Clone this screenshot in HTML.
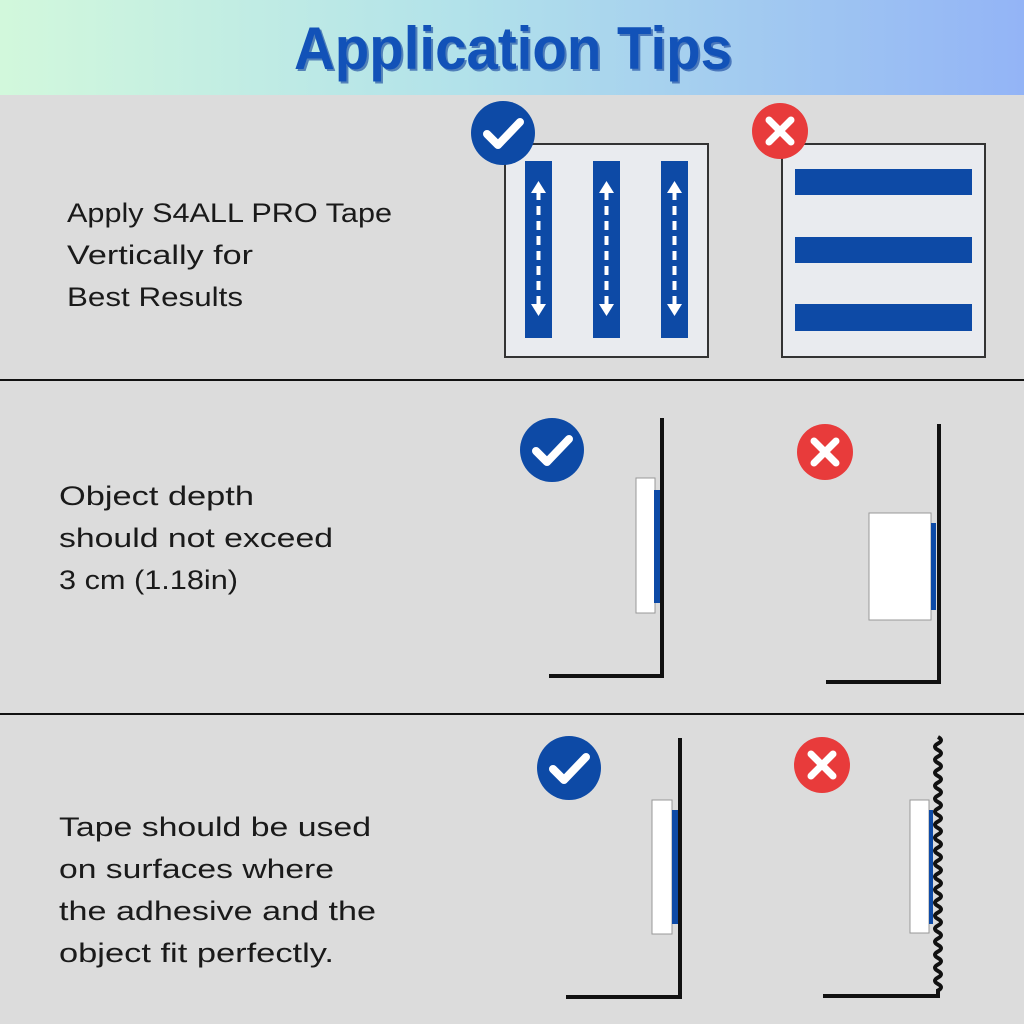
<!DOCTYPE html>
<html><head><meta charset="utf-8"><style>
html,body{margin:0;padding:0;background:#dcdcdc}
svg{display:block}
text{font-family:"Liberation Sans",sans-serif}
.t{font-size:27px;fill:#1a1a1a}
</style></head><body>
<svg width="1024" height="1024" viewBox="0 0 1024 1024" xmlns="http://www.w3.org/2000/svg">
<defs>
<linearGradient id="hg" x1="0" y1="0" x2="1" y2="0">
<stop offset="0" stop-color="#d2f8dc"/><stop offset="0.45" stop-color="#b2e2ea"/><stop offset="1" stop-color="#93b4f6"/>
</linearGradient>
<g id="chk"><path d="M-16,1 L-5,12 L17,-11" fill="none" stroke="#fff" stroke-width="8" stroke-linecap="round" stroke-linejoin="round"/></g>
<g id="xx"><path d="M-11,-11 L11,11 M11,-11 L-11,11" fill="none" stroke="#fff" stroke-width="7" stroke-linecap="round"/></g>
<g id="strip">
<rect x="0" y="0" width="27" height="177" fill="#0d4aa6"/>
<path d="M13.5,30 V150" stroke="#fff" stroke-width="4" stroke-dasharray="9,6"/>
<path d="M6,32 L13.5,20 L21,32 Z M6,143 L13.5,155 L21,143 Z" fill="#fff"/>
</g>
</defs>
<rect width="1024" height="1024" fill="#dcdcdc"/>
<rect width="1024" height="95" fill="url(#hg)"/>
<text x="515" y="71" font-size="60" font-weight="bold" fill="#0f3f9a" text-anchor="middle" textLength="438" lengthAdjust="spacingAndGlyphs" opacity="0.6">Application Tips</text>
<text x="513" y="69" font-size="60" font-weight="bold" fill="#1252b8" text-anchor="middle" textLength="438" lengthAdjust="spacingAndGlyphs">Application Tips</text>

<line x1="0" y1="380" x2="1024" y2="380" stroke="#111" stroke-width="2"/>
<line x1="0" y1="714" x2="1024" y2="714" stroke="#111" stroke-width="2"/>

<!-- section 1 -->
<text class="t" x="67" y="222" textLength="325" lengthAdjust="spacingAndGlyphs">Apply S4ALL PRO Tape</text>
<text class="t" x="67" y="264" textLength="186" lengthAdjust="spacingAndGlyphs">Vertically for</text>
<text class="t" x="67" y="306" textLength="176" lengthAdjust="spacingAndGlyphs">Best Results</text>
<rect x="505" y="144" width="203" height="213" fill="#e9ebef" stroke="#333" stroke-width="2"/>
<use href="#strip" x="525" y="161"/>
<use href="#strip" x="593" y="161"/>
<use href="#strip" x="661" y="161"/>
<circle cx="503" cy="133" r="32" fill="#0d4aa6"/><use href="#chk" x="503" y="133"/>
<rect x="782" y="144" width="203" height="213" fill="#e9ebef" stroke="#333" stroke-width="2"/>
<rect x="795" y="169" width="177" height="26" fill="#0d4aa6"/>
<rect x="795" y="237" width="177" height="26" fill="#0d4aa6"/>
<rect x="795" y="304" width="177" height="27" fill="#0d4aa6"/>
<circle cx="780" cy="131" r="28" fill="#e83b3b"/><use href="#xx" x="780" y="131"/>

<!-- section 2 -->
<text class="t" x="59" y="505" textLength="195" lengthAdjust="spacingAndGlyphs">Object depth</text>
<text class="t" x="59" y="547" textLength="274" lengthAdjust="spacingAndGlyphs">should not exceed</text>
<text class="t" x="59" y="589" textLength="179" lengthAdjust="spacingAndGlyphs">3 cm (1.18in)</text>
<circle cx="552" cy="450" r="32" fill="#0d4aa6"/><use href="#chk" x="552" y="450"/>
<path d="M662,418 V676 H549" fill="none" stroke="#111" stroke-width="4"/>
<rect x="636" y="478" width="19" height="135" fill="#fff" stroke="#999" stroke-width="1"/>
<rect x="654" y="490" width="6" height="113" fill="#0d4aa6"/>
<circle cx="825" cy="452" r="28" fill="#e83b3b"/><use href="#xx" x="825" y="452"/>
<path d="M939,424 V682 H826" fill="none" stroke="#111" stroke-width="4"/>
<rect x="869" y="513" width="62" height="107" fill="#fff" stroke="#999" stroke-width="1"/>
<rect x="931" y="523" width="5" height="87" fill="#0d4aa6"/>

<!-- section 3 -->
<text class="t" x="59" y="836" textLength="312" lengthAdjust="spacingAndGlyphs">Tape should be used</text>
<text class="t" x="59" y="878" textLength="275" lengthAdjust="spacingAndGlyphs">on surfaces where</text>
<text class="t" x="59" y="920" textLength="317" lengthAdjust="spacingAndGlyphs">the adhesive and the</text>
<text class="t" x="59" y="962" textLength="275" lengthAdjust="spacingAndGlyphs">object fit perfectly.</text>
<circle cx="569" cy="768" r="32" fill="#0d4aa6"/><use href="#chk" x="569" y="768"/>
<path d="M680,738 V997 H566" fill="none" stroke="#111" stroke-width="4"/>
<rect x="652" y="800" width="20" height="134" fill="#fff" stroke="#999" stroke-width="1"/>
<rect x="672" y="810" width="6" height="114" fill="#0d4aa6"/>
<circle cx="822" cy="765" r="28" fill="#e83b3b"/><use href="#xx" x="822" y="765"/>
<path d="M938,737 q6,3.25 0,6.5 t0,6.5 t0,6.5 t0,6.5 t0,6.5 t0,6.5 t0,6.5 t0,6.5 t0,6.5 t0,6.5 t0,6.5 t0,6.5 t0,6.5 t0,6.5 t0,6.5 t0,6.5 t0,6.5 t0,6.5 t0,6.5 t0,6.5 t0,6.5 t0,6.5 t0,6.5 t0,6.5 t0,6.5 t0,6.5 t0,6.5 t0,6.5 t0,6.5 t0,6.5 t0,6.5 t0,6.5 t0,6.5 t0,6.5 t0,6.5 t0,6.5 t0,6.5 t0,6.5 t0,6.5 L938,996 H823" fill="none" stroke="#111" stroke-width="4"/>
<rect x="910" y="800" width="19" height="133" fill="#fff" stroke="#999" stroke-width="1"/>
<rect x="929" y="810" width="4" height="114" fill="#0d4aa6"/>
</svg>
</body></html>
